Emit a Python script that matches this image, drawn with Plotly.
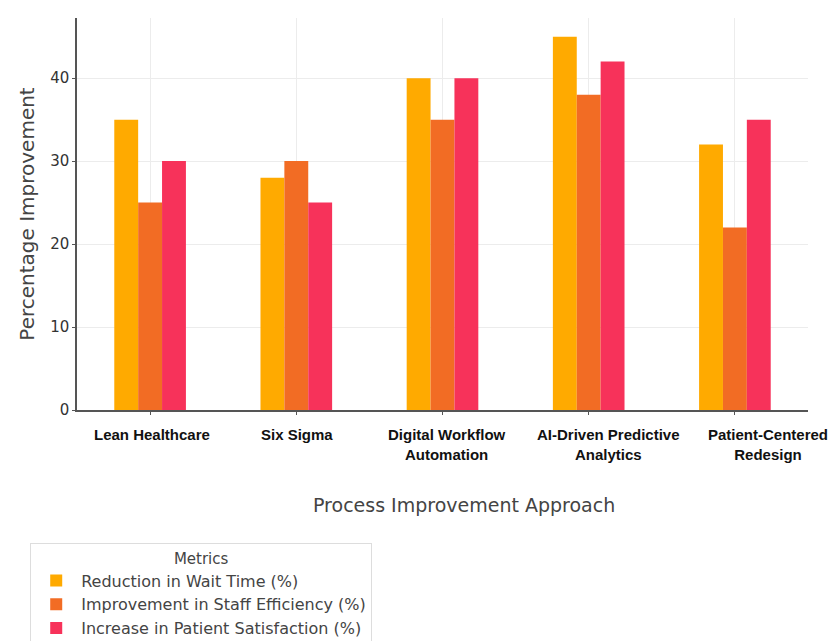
import plotly.graph_objects as go

categories = ["Lean Healthcare", "Six Sigma", "Digital Workflow<br>Automation",
              "AI-Driven Predictive<br>Analytics", "Patient-Centered<br>Redesign"]
wait_time = [35, 28, 40, 45, 32]
staff_eff = [25, 30, 35, 38, 22]
patient_sat = [30, 25, 40, 42, 35]
series_names = ["Reduction in Wait Time (%)", "Improvement in Staff Efficiency (%)",
                "Increase in Patient Satisfaction (%)"]
colors = ["#FFAA00", "#F26C24", "#F7325A"]
label_xshift = [2, 1, 4, 20, 33]

x = list(range(len(categories)))
fig = go.Figure()
for name, vals, c in zip(series_names, [wait_time, staff_eff, patient_sat], colors):
    fig.add_trace(go.Bar(x=x, y=vals, name=name, marker=dict(color=c, line=dict(width=0))))

for xi, lab, sh in zip(x, categories, label_xshift):
    fig.add_annotation(x=xi, xref="x", y=0, yref="paper", yanchor="top", xanchor="center",
                       yshift=-14, xshift=sh, showarrow=False, align="center",
                       text="<b>" + lab + "</b>",
                       font=dict(family="Liberation Sans", size=15, color="#111111"))

fig.add_annotation(x=0.5, xref="paper", y=0, yref="paper", yanchor="middle", xanchor="center",
                   yshift=-95, xshift=21, showarrow=False,
                   text="Process Improvement Approach",
                   font=dict(family="DejaVu Sans", size=19, color="#444444"))

fig.update_layout(
    width=836, height=641,
    margin=dict(l=77, r=28, t=18, b=231),
    plot_bgcolor="white", paper_bgcolor="white",
    barmode="group", bargap=0.51, bargroupgap=0,
    font=dict(family="DejaVu Sans", color="#333333"),
    xaxis=dict(
        tickmode="array", tickvals=x, showticklabels=False,
        range=[-0.5, 4.5], showgrid=True, gridcolor="#ececec", gridwidth=1,
        showline=True, linecolor="#555555", linewidth=1.5,
        ticks="outside", ticklen=3, tickcolor="#555555",
        zeroline=False,
    ),
    yaxis=dict(
        range=[0, 47.25], tickvals=[0, 10, 20, 30, 40],
        showgrid=True, gridcolor="#ececec", gridwidth=1,
        showline=True, linecolor="#555555", linewidth=1.5,
        ticks="outside", ticklen=3, tickcolor="#555555",
        tickfont=dict(size=15, color="#333333"),
        title=dict(text="Percentage Improvement", font=dict(size=20, color="#444444"), standoff=10),
        zeroline=False,
    ),
    legend=dict(
        title=dict(text="Metrics", side="top center", font=dict(size=15, color="#444444")),
        xref="paper", yref="container",
        x=-0.064, y=1 - 543 / 641, xanchor="left", yanchor="top",
        bordercolor="#dddddd", borderwidth=1, bgcolor="white",
        font=dict(size=16, color="#444444"), tracegroupgap=0, itemwidth=40,
    ),
    showlegend=True,
)
fig.write_html("out.html")
